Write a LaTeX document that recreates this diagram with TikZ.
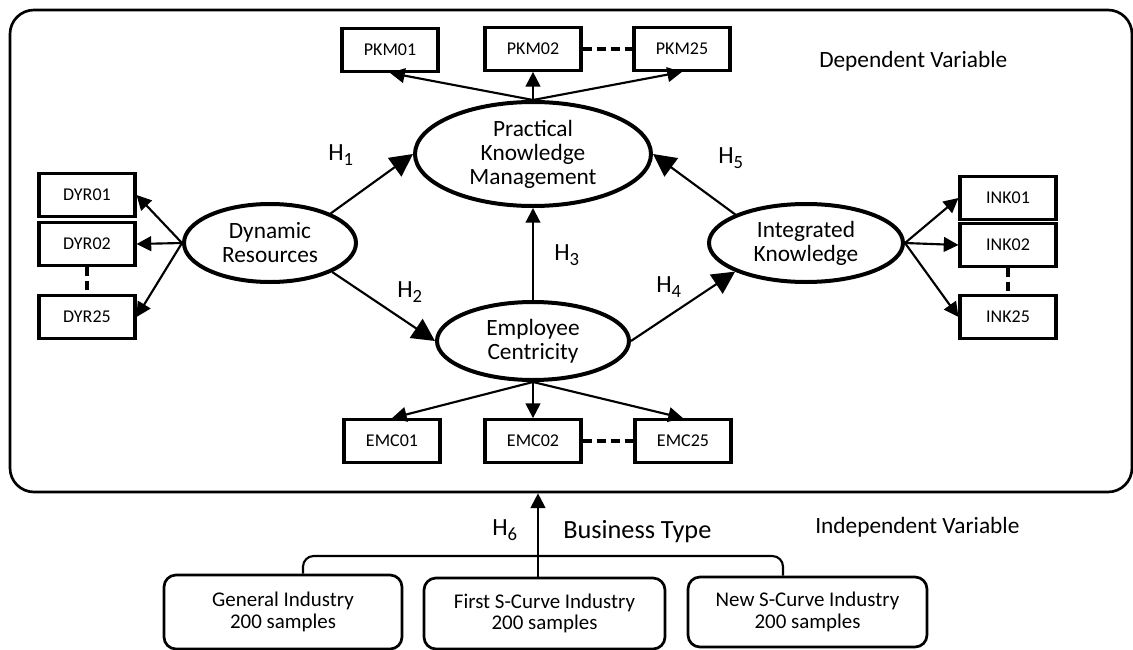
\documentclass[tikz,border=0pt]{standalone}
\usepackage{fontspec}
\setmainfont{Carlito}
\usetikzlibrary{shapes.geometric,arrows.meta}
\newcommand{\hyplabel}[1]{H\raisebox{-4pt}{\fontsize{14}{14}\selectfont #1}}
\begin{document}
\begin{tikzpicture}[x=0.75pt,y=-0.75pt,
  box/.style={draw, line width=2.3pt, minimum width=72pt, minimum height=32pt, inner sep=0pt, font=\fontsize{13.5}{14}\selectfont},
  lat/.style={draw, ellipse, line width=3pt, inner sep=0pt, align=center, font=\fontsize{17.5}{18}\selectfont},
  ind/.style={-{Triangle[length=11pt,width=11pt]}, line width=1.6pt},
  hyp/.style={-{Triangle[length=17pt,width=17pt]}, line width=1.6pt},
  hypsmall/.style={-{Triangle[length=11pt,width=11pt]}, line width=1.6pt},
  dashlink/.style={line width=2.4pt, dash pattern=on 7pt off 3.5pt},
  group/.style={draw, line width=2pt, rounded corners=9pt, inner sep=0pt, align=center, font=\fontsize{15.7}{16}\selectfont},
  lbl/.style={inner sep=0pt, anchor=base west, font=\fontsize{17.5}{18}\selectfont},
  hlbl/.style={inner sep=0pt, anchor=base west, font=\fontsize{18.5}{18}\selectfont}
]
\useasboundingbox (0,0) rectangle (1133,650);
% outer frame
\node[draw, line width=2pt, rounded corners=18pt, minimum width=841.5pt, minimum height=361.5pt, inner sep=0pt] (frame) at (571,251) {};

% latent variables
\node[lat, minimum width=177pt, minimum height=78pt] (PKM) at (533,154) {Practical\\Knowledge\\Management};
\node[lat, minimum width=129pt, minimum height=58.5pt] (DR) at (270,243) {Dynamic\\Resources};
\node[lat, minimum width=144pt, minimum height=58.5pt] (EC) at (533,341) {Employee\\Centricity};
\node[lat, minimum width=145.5pt, minimum height=58.5pt] (IK) at (806,243) {Integrated\\Knowledge};

% indicator boxes
\node[box] (P1) at (390,50) {PKM01};
\node[box] (P2) at (533,49) {PKM02};
\node[box] (P25) at (682,49) {PKM25};
\node[box] (D1) at (87,195) {DYR01};
\node[box] (D2) at (87,244) {DYR02};
\node[box] (D25) at (87,317) {DYR25};
\node[box] (I1) at (1008,198) {INK01};
\node[box] (I2) at (1008,245) {INK02};
\node[box] (I25) at (1008,317) {INK25};
\node[box] (E1) at (392,441) {EMC01};
\node[box] (E2) at (533,441) {EMC02};
\node[box] (E25) at (683,441) {EMC25};

% dashed links
\draw[dashlink] (P2) -- (P25);
\draw[dashlink] (E2) -- (E25);
\draw[dashlink] (D2) -- (D25);
\draw[dashlink] (I2) -- (I25);

% indicator arrows
\draw[ind] (PKM.north) -- (P1.south);
\draw[ind] (PKM.north) -- (P2.south);
\draw[ind] (PKM.north) -- (P25.south);
\draw[ind] (DR.west) -- (D1.east);
\draw[ind] (DR.west) -- (D2.east);
\draw[ind] (DR.west) -- (D25.east);
\draw[ind] (IK.east) -- (I1.west);
\draw[ind] (IK.east) -- (I2.west);
\draw[ind] (IK.east) -- (I25.west);
\draw[ind] (EC.south) -- (E1.north);
\draw[ind] (EC.south) -- (E2.north);
\draw[ind] (EC.south) -- (E25.north);

% hypotheses
\draw[hyp] (DR.26) -- (PKM.west);
\draw[hyp] (DR.-25) -- (EC.west);
\draw[hypsmall] (EC.north) -- (PKM.south);
\draw[hyp] (EC.east) -- (IK.-158);
\draw[hyp] (IK.158) -- (PKM.east);

\node[hlbl] (h1) at (328,160) {\hyplabel{1}};
\node[hlbl] (h2) at (397,297) {\hyplabel{2}};
\node[hlbl] (h3) at (554,260) {\hyplabel{3}};
\node[hlbl] (h4) at (656,292) {\hyplabel{4}};
\node[hlbl] (h5) at (718,163) {\hyplabel{5}};
\node[hlbl] (h6) at (492,535) {\hyplabel{6}};

\node[lbl] (dep) at (819,67) {Dependent Variable};
\node[lbl] (indep) at (815,533) {Independent Variable};
\node[lbl, font=\fontsize{19.7}{20}\selectfont] (bt) at (563,538) {Business Type};

% business type groups
\node[group, minimum width=178.5pt, minimum height=55.5pt] (GI) at (283,612) {General Industry\\200 samples};
\node[group, minimum width=180.75pt, minimum height=53.25pt] (FS) at (544.5,613.5) {First S-Curve Industry\\200 samples};
\node[group, minimum width=179.25pt, minimum height=52.5pt] (NS) at (807.5,612) {New S-Curve Industry\\200 samples};

\coordinate (bl) at (303,556);
\coordinate (br) at (783,556);
\draw[line width=1.6pt, rounded corners=8pt] (GI.north -| bl) -- (bl) -- (br) -- (NS.north -| br);
\coordinate (h6x) at (538,0);
\draw[hypsmall] (FS.north -| h6x) -- (frame.south -| h6x);
\end{tikzpicture}
\end{document}
